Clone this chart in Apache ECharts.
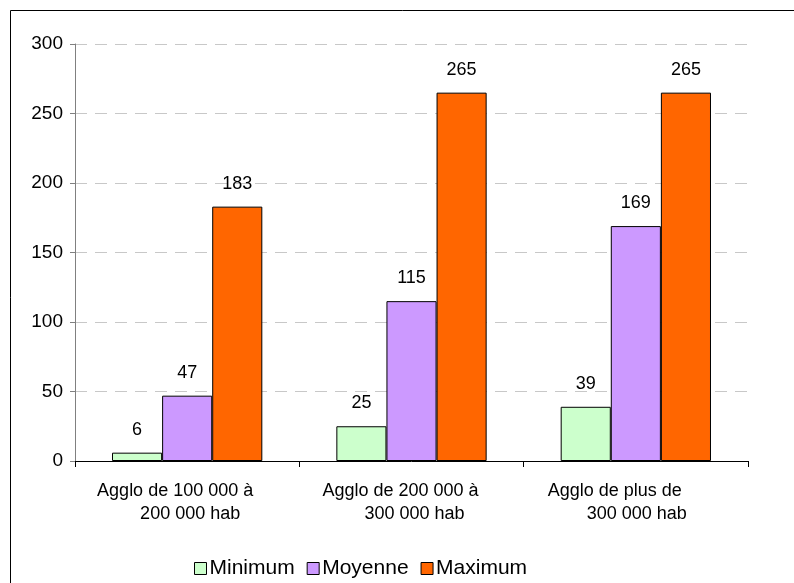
<!DOCTYPE html>
<html>
<head>
<meta charset="utf-8">
<script src="https://cdn.jsdelivr.net/npm/echarts@6/dist/echarts.min.js"></script>
<style>
  html, body { margin: 0; padding: 0; background: #fff; }
  #chart { width: 794px; height: 583px; }
</style>
</head>
<body>
<div id="chart"></div>
<script>
// Agglomeration size classes (two-line labels)
const categories = [
  ['Agglo de 100 000 à', '200 000 hab'],
  ['Agglo de 200 000 à', '300 000 hab'],
  ['Agglo de plus de', '300 000 hab']
];
const seriesNames = ['Minimum', 'Moyenne', 'Maximum'];
const minimumValues = [6, 25, 39];
const moyenneValues = [47, 115, 169];
const maximumValues = [183, 265, 265];
const yTicks = { min: 0, max: 300, interval: 50 };

// Horizontal shift of each label line from the category centre (px)
const lineShift = [[-12, 3], [-11, 3], [-21, 1]];

const FONT = '"Liberation Sans", Arial, sans-serif';
const colors = ['#CCFFCC', '#CC99FF', '#FF6600'];

const rich = {};
lineShift.forEach((s, i) => {
  s.forEach((d, j) => {
    rich['c' + i + '_' + j] = {
      fontSize: 18,
      fontFamily: FONT,
      color: '#000',
      lineHeight: 23,
      align: 'center',
      padding: d < 0 ? [0, -2 * d, 0, 0] : [0, 0, 0, 2 * d]
    };
  });
});

const chart = echarts.init(document.getElementById('chart'), null, { renderer: 'canvas' });

function barSeries(name, data, color) {
  return {
    name: name,
    type: 'bar',
    data: data,
    barGap: '0%',
    barCategoryGap: '33%',
    itemStyle: { color: color, borderColor: '#000', borderWidth: 1 },
    label: {
      show: true,
      position: 'top',
      distance: 14,
      fontSize: 18,
      fontFamily: FONT,
      color: '#000'
    }
  };
}

chart.setOption({
  animation: false,
  backgroundColor: '#fff',
  textStyle: { fontFamily: FONT },
  graphic: [{
    type: 'rect',
    shape: { x: 10.5, y: 10.5, width: 800, height: 600 },
    style: { fill: 'none', stroke: '#000', lineWidth: 1 },
    z: 100
  }],
  grid: { left: 75, right: 46, top: 44, bottom: 122, containLabel: false },
  legend: {
    data: seriesNames,
    left: 189,
    top: 553,
    itemWidth: 12,
    itemHeight: 12,
    itemGap: 12,
    icon: 'rect',
    textStyle: { fontSize: 21, fontFamily: FONT, color: '#000', padding: [0, 0, 0, -2] },
    itemStyle: { borderColor: '#000', borderWidth: 1 }
  },
  xAxis: {
    type: 'category',
    data: categories.map(c => c.join('\n')),
    axisLine: { lineStyle: { color: '#000', width: 1 } },
    axisTick: { show: true, length: 6, lineStyle: { color: '#000' } },
    axisLabel: {
      interval: 0,
      margin: 19,
      formatter: function (value, idx) {
        const parts = value.split('\n');
        return '{c' + idx + '_0|' + parts[0] + '}\n{c' + idx + '_1|' + parts[1] + '}';
      },
      rich: rich
    }
  },
  yAxis: {
    type: 'value',
    min: yTicks.min,
    max: yTicks.max,
    interval: yTicks.interval,
    axisLine: { show: true, lineStyle: { color: '#808080', width: 1 } },
    axisTick: { show: true, length: 5, lineStyle: { color: '#808080' } },
    axisLabel: { margin: 12, fontSize: 19, fontFamily: FONT, color: '#000' },
    splitLine: { show: true, lineStyle: { color: '#C8C8C8', type: [12, 8], width: 1 } }
  },
  series: [
    barSeries(seriesNames[0], minimumValues, colors[0]),
    barSeries(seriesNames[1], moyenneValues, colors[1]),
    barSeries(seriesNames[2], maximumValues, colors[2])
  ]
});
</script>
</body>
</html>
